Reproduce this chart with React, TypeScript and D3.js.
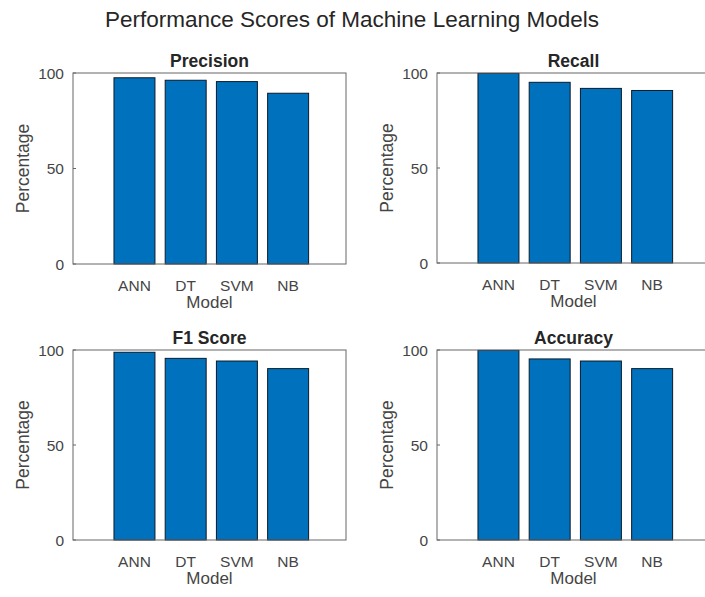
import * as d3 from "d3";

// chart values
const models = ["ANN", "DT", "SVM", "NB"];
const metrics = ["Precision", "Recall", "F1 Score", "Accuracy"];
const precision = [97.5, 96.2, 95.5, 89.4];
const recall = [99.8, 95.1, 91.9, 90.8];
const f1Score = [98.8, 95.6, 94.2, 90.2];
const accuracy = [99.8, 95.3, 94.2, 90.2];
const yTicks = [0, 50, 100];

const seriesList = [precision, recall, f1Score, accuracy];

const width = 705;
const height = 597;
const font = "'Liberation Sans', Arial, Helvetica, sans-serif";
const textColor = "#262626";
const labelColor = "#454545";
const axisColor = "#666";
const barFill = "#0072BD";

// subplot boxes [left, top, right, bottom]
const boxes = [
  [73, 73, 346, 264],
  [437, 73, 710, 263],
  [73, 350, 346, 540],
  [437, 350, 710, 540],
];

const Panel = ({ title, values, box }) => {
  const [x0, y0, x1, y1] = box;
  const x = d3.scaleLinear().domain([-0.2, 5.13]).range([x0, x1]);
  const y = d3.scaleLinear().domain([0, 100]).range([y1, y0]);
  const barW = x(0.8) - x(0);
  const cx = (x0 + x1) / 2;
  const cy = (y0 + y1) / 2;

  return (
    <g>
      {values.map((v, i) => (
        <rect
          key={models[i]}
          x={x(i + 1) - barW / 2}
          y={y(v)}
          width={barW}
          height={y(0) - y(v)}
          fill={barFill}
          stroke="#0b1a2a"
          strokeWidth={1}
        />
      ))}
      <rect
        x={x0}
        y={y0}
        width={x1 - x0}
        height={y1 - y0}
        fill="none"
        stroke={axisColor}
        strokeWidth={1}
      />
      {yTicks.map((t) => (
        <g key={t}>
          <line x1={x0} x2={x0 + 3} y1={y(t)} y2={y(t)} stroke={axisColor} />
          <text
            x={x0 - 9}
            y={y(t)}
            dy="0.36em"
            textAnchor="end"
            fontSize={15.5}
            fill={labelColor}
          >
            {t}
          </text>
        </g>
      ))}
      {models.map((m, i) => (
        <text
          key={m}
          x={x(i + 1)}
          y={y1 + 27}
          textAnchor="middle"
          fontSize={15.5}
          fill={labelColor}
        >
          {m}
        </text>
      ))}
      <text
        x={cx}
        y={y1 + 44}
        textAnchor="middle"
        fontSize={17}
        fill={labelColor}
      >
        Model
      </text>
      <text
        transform={`translate(${x0 - 44},${cy}) rotate(-90)`}
        textAnchor="middle"
        fontSize={17.5}
        fill={labelColor}
      >
        Percentage
      </text>
      <text
        x={cx}
        y={y0 - 6}
        textAnchor="middle"
        fontSize={17.5}
        fontWeight="bold"
        fill={textColor}
      >
        {title}
      </text>
    </g>
  );
};

export default function App() {
  return (
    <div style={{ position: "absolute", left: 0, top: 0 }}>
      <svg
        width={width}
        height={height}
        style={{ display: "block", background: "#fff", fontFamily: font }}
      >
        <text
          x={352}
          y={27}
          textAnchor="middle"
          fontSize={22.5}
          fill={textColor}
        >
          Performance Scores of Machine Learning Models
        </text>
        {metrics.map((m, i) => (
          <Panel key={m} title={m} values={seriesList[i]} box={boxes[i]} />
        ))}
      </svg>
    </div>
  );
}
